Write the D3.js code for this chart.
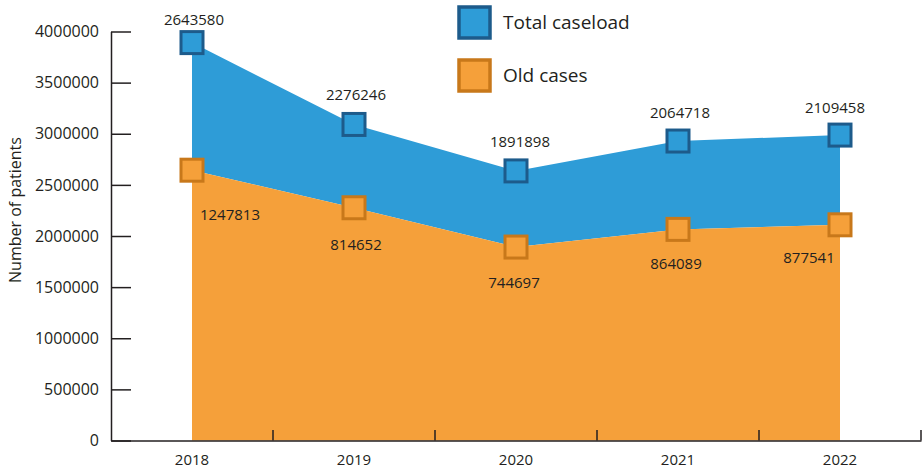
<!DOCTYPE html>
<html>
<head>
<meta charset="utf-8">
<script src="https://cdn.jsdelivr.net/npm/d3@7"></script>
<style>
  body { margin: 0; background: #fff; }
  svg text { font-family: 'Open Sans', sans-serif; fill: #231f20; }
</style>
</head>
<body>
<svg width="922" height="469"></svg>
<script>
  const years = ['2018', '2019', '2020', '2021', '2022'];
  const oldCases = [2643580, 2276246, 1891898, 2064718, 2109458];
  const newCases = [1247813, 814652, 744697, 864089, 877541];
  const yTicks = [0, 500000, 1000000, 1500000, 2000000, 2500000, 3000000, 3500000, 4000000];
  // label nudges as in the original (dx, dy from marker)
  const topNudge = [[2, -18], [2, -24], [4, -24], [2, -23], [-5, -22]];
  const lowNudge = [[38, 50], [2, 42], [-2, 41], [-2, 40], [-31, 38]];

  const blue = '#2e9cd7', blueDark = '#1d5b8b';
  const orange = '#f5a03a', orangeDark = '#c8781a';

  const svg = d3.select('svg');

  const x = d3.scaleBand().domain(years).range([111, 921]);
  const y = d3.scaleLinear().domain([0, 4000000]).range([440.5, 31.5]);
  const cx = d => x(d) + x.bandwidth() / 2;

  const data = years.map((yr, i) => ({
    year: yr, old: oldCases[i], add: newCases[i], total: oldCases[i] + newCases[i], i: i
  }));

  // areas
  svg.append('path')
    .datum(data)
    .attr('fill', blue)
    .attr('d', d3.area().x(d => cx(d.year)).y0(d => y(d.old)).y1(d => y(d.total)));

  svg.append('path')
    .datum(data)
    .attr('fill', orange)
    .attr('d', d3.area().x(d => cx(d.year)).y0(y(0)).y1(d => y(d.old)));

  // y axis
  const yAxis = svg.append('g')
    .attr('transform', 'translate(111,0)')
    .call(d3.axisLeft(y).tickValues(yTicks).tickFormat(d3.format('d'))
      .tickSize(-20).tickSizeOuter(0).tickPadding(12));
  yAxis.select('.domain').attr('stroke', '#231f20').attr('stroke-width', 1.5);
  yAxis.selectAll('.tick line').attr('stroke', '#231f20').attr('stroke-width', 1.5);
  yAxis.selectAll('.tick text').style('font-size', '16px').attr('font-family', null);

  // x axis
  const xAxis = svg.append('g')
    .attr('transform', 'translate(0,440.5)')
    .call(d3.axisBottom(x).tickSize(0).tickPadding(14));
  xAxis.select('.domain').attr('stroke', '#231f20').attr('stroke-width', 1.5);
  xAxis.selectAll('.tick text').style('font-size', '15px').attr('font-family', null);

  svg.append('g').selectAll('line')
    .data(years)
    .join('line')
      .attr('x1', d => x(d) + x.bandwidth())
      .attr('x2', d => x(d) + x.bandwidth())
      .attr('y1', 440.5)
      .attr('y2', 430)
      .attr('stroke', '#231f20')
      .attr('stroke-width', 1.5);

  svg.append('text')
    .attr('transform', 'translate(21,210) rotate(-90)')
    .attr('text-anchor', 'middle')
    .style('font-size', '16px')
    .text('Number of patients');

  // markers
  const s = 22;
  svg.append('g').selectAll('rect')
    .data(data)
    .join('rect')
      .attr('x', d => cx(d.year) - s / 2)
      .attr('y', d => y(d.total) - s / 2)
      .attr('width', s).attr('height', s)
      .attr('fill', blue).attr('stroke', blueDark).attr('stroke-width', 3);

  svg.append('g').selectAll('rect')
    .data(data)
    .join('rect')
      .attr('x', d => cx(d.year) - s / 2)
      .attr('y', d => y(d.old) - s / 2)
      .attr('width', s).attr('height', s)
      .attr('fill', orange).attr('stroke', orangeDark).attr('stroke-width', 3);

  // value labels
  svg.append('g').selectAll('text')
    .data(data)
    .join('text')
      .attr('x', d => cx(d.year) + topNudge[d.i][0])
      .attr('y', d => y(d.total) + topNudge[d.i][1])
      .attr('text-anchor', 'middle')
      .style('font-size', '15px')
      .text(d => d.old);

  svg.append('g').selectAll('text')
    .data(data)
    .join('text')
      .attr('x', d => cx(d.year) + lowNudge[d.i][0])
      .attr('y', d => y(d.old) + lowNudge[d.i][1])
      .attr('text-anchor', 'middle')
      .style('font-size', '15px')
      .text(d => d.add);

  // legend
  const legend = [
    { label: 'Total caseload', fill: blue, stroke: blueDark },
    { label: 'Old cases', fill: orange, stroke: orangeDark }
  ];
  const lg = svg.append('g').selectAll('g')
    .data(legend)
    .join('g')
      .attr('transform', (d, i) => `translate(459,${7 + i * 53})`);
  lg.append('rect')
    .attr('width', 31).attr('height', 31)
    .attr('fill', d => d.fill).attr('stroke', d => d.stroke).attr('stroke-width', 3.5);
  lg.append('text')
    .attr('x', 44).attr('y', 22)
    .style('font-size', '19px')
    .text(d => d.label);
</script>
</body>
</html>
